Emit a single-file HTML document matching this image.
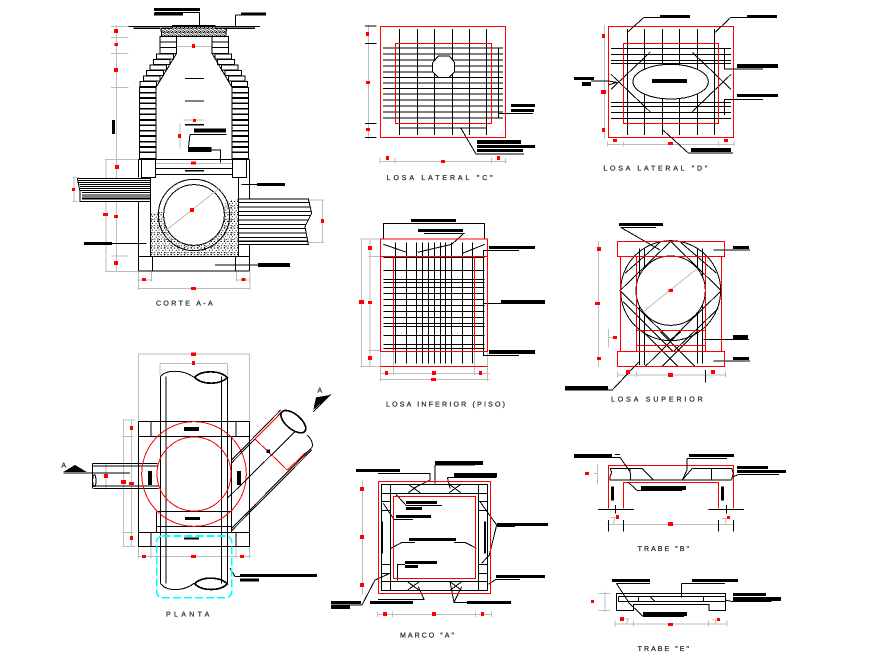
<!DOCTYPE html>
<html><head><meta charset="utf-8">
<style>
html,body{margin:0;padding:0;background:#fff}
svg{display:block;shape-rendering:crispEdges}
.k{fill:none;stroke:#000;stroke-width:3}
.k2{fill:none;stroke:#000;stroke-width:5}
.g{fill:none;stroke:#bdbdbd;stroke-width:3}
.r{fill:none;stroke:#f00;stroke-width:3}
.R{fill:#f00;stroke:none}
.b{fill:#000;stroke:none}
.w{fill:#fff;stroke:#000;stroke-width:3}
text{font-family:"Liberation Sans",sans-serif;font-size:21px;fill:#333;stroke:#333;stroke-width:.9;text-rendering:geometricPrecision}
</style></head><body>
<svg xmlns="http://www.w3.org/2000/svg" width="895" height="659" viewBox="0 0 895 659">
<defs>
<pattern id="gr" width="12" height="12" patternUnits="userSpaceOnUse"><path d="M0 1h6v4h-6zM8 0h4v3h-4zM4 7h5v4h-5zM10 6h2v5h-2zM0 9h3v3h-3z" fill="#000"/></pattern>
<pattern id="co" width="20" height="20" patternUnits="userSpaceOnUse"><path d="M2 3h3v3h-3zM12 2h3v3h-3zM7 10h3v3h-3zM16 9h3v3h-3zM3 16h3v3h-3zM12 15h3v3h-3zM17 17h3v3h-3z" fill="#000"/></pattern>
</defs>
<rect width="895" height="659" fill="#fff"/>

<!-- CORTE A-A -->
<g transform="translate(60,0) scale(.33333)">
<path class="g" d="M170 75V815M153 80H205M153 112H205M153 160H205M153 262H205M153 768H205M135 478H235M138 478V815M135 815H235M42 530V605M38 532H52M38 605H52M788 600V728M745 600H792M745 728H792M232 840H275M530 840H572M232 865H572M235 815V870M275 815V845M530 815V845M570 815V870M370 360H432M360 370V445M285 490H520M350 140H455"/>
<path fill="url(#gr)" stroke="#000" stroke-width="3" d="M338 76H465L468 84H500L497 110H305L303 84H335Z"/>
<path class="k" d="M205 80H600M285 37H418V75M527 45H543M527 45V78M390 404H500M390 404L385 445M455 450H481V487M375 235H432M375 303H432"/>
<path class="k2" d="M220 85H300M500 85H585M375 374H432M375 512H432"/>
<path class="w" d="M300 110H350V160H300ZM456 110H505V160H456ZM290 162H340V177H290ZM280 178H330V194H280ZM270 195H320V210H270ZM259 211H310V227H259ZM250 228H300V243H250ZM240 244H290V260H240ZM465 162H515V177H465ZM473 178H524V194H473ZM484 195H534V210H484ZM495 211H545V227H495ZM505 228H555V243H505ZM515 244H563V260H515Z"/>
<path class="k" d="M300 126H350M300 143H350M456 126H505M456 143H505M350 160L288 262M456 160L516 262"/>
<path class="w" d="M238 262H288V476H238ZM516 262H566V476H516Z"/>
<path class="k2" d="M238 278H288M238 294H288M238 310H288M238 326H288M238 343H288M238 360H288M238 376H288M238 392H288M238 408H288M238 425H288M238 441H288M238 457H288M516 278H566M516 294H566M516 310H566M516 326H566M516 343H566M516 360H566M516 376H566M516 392H566M516 408H566M516 425H566M516 441H566M516 457H566"/>
<path class="k" d="M235 478H568M245 478V532H287V478M517 478V532H560V478M287 505H517M287 524H517M235 478V532M568 478V595M272 532V770M535 532V595M235 605V770M535 730V770M568 730V770M235 770H568M235 813H568M235 770V813M568 770V813M278 770V813M527 770V813"/>
<circle cx="402" cy="645" r="107" class="k"/>
<path fill="url(#co)" stroke="none" d="M272 640L312 635L402 740L490 640L497 606L535 597V768H272Z"/>
<circle cx="402" cy="645" r="91" fill="#fff" stroke="#000" stroke-width="3"/>
<path class="g" d="M320 690L478 565"/>
<path fill="#fff" stroke="#000" stroke-width="3" d="M52 535H272V605H60V575Z"/>
<path class="k" d="M54 541H272M56 547H272M58 553H272M60 559H272M60 565H272M60 572H272M66 578H272M66 585H272M66 591H272"/>
<path class="k2" d="M66 596H272"/>
<path fill="#fff" stroke="#000" stroke-width="3" d="M535 597H745L755 640L735 680L745 733H535Z"/>
<path class="k" d="M535 608H750M535 621H752M535 634H754M535 647H750M535 660H745M535 673H738M535 686H738M535 699H740M535 712H742"/>
<path class="k2" d="M535 724H742"/>
<path class="k" d="M156 730H260M545 553H591M465 795H594"/>
<path class="b" d="M282 24h138v9h-138zM282 38h87v9h-87zM543 37h75v10h-75zM402 386h96v12h-96zM384 441h70v15h-70zM156 360h9v42h-9zM72 726h84v9h-84zM591 549h84v9h-84zM594 789h96v12h-96z"/>
<path class="R" d="M162 87h12v12h-12zM163 129h11v9h-11zM162 204h12v12h-12zM165 495h12v12h-12zM129 639h15v9h-15zM162 645h12v9h-12zM162 783h12v12h-12zM36 564h9v9h-9zM783 657h9v12h-9zM246 834h12v9h-12zM544 834h12v9h-12zM393 861h15v9h-15zM396 132h9v12h-9zM399 357h9v9h-9zM354 402h9v12h-9zM393 484h15v9h-15zM390 624h12v12h-12z"/>
<text x="288" y="917" textLength="170" lengthAdjust="spacing">CORTE A-A</text>
</g>

<!-- PLANTA -->
<g transform="translate(50,340) scale(.33333)">
<path class="g" d="M265 42H598M265 42V240M598 42V240M330 70H532M330 70V105M532 70V105M220 240V620M245 240V620M218 240H255M218 289H250M218 577H250M218 620H255M262 650H603M265 620V655M303 620V655M558 620V655M598 620V655M168 367V450"/>
<path class="k" d="M265 244H598V620H265ZM265 289H598M265 577H598M320 515H545M320 560H545M303 244V289M558 244V289M303 577V620M558 577V620M320 515V577M545 290V577"/>
<path class="k" d="M332 110V730M348 110V730M514 110V730M532 110V730M332 110C345 88 400 88 432 112M332 730C345 755 400 755 432 730"/>
<path class="k2" d="M434 112C455 90 510 90 532 113C510 135 455 135 434 112ZM434 731C455 709 510 709 532 732C510 754 455 754 434 731Z"/>
<path class="k" d="M128 370H322M128 378H322M130 438H325M130 445H325M128 370V445M240 399H40"/>
<ellipse cx="133" cy="422" rx="5" ry="18" class="k"/>
<circle cx="432" cy="402" r="157" class="r"/>
<circle cx="432" cy="402" r="111" class="r"/>
<path class="k" d="M545 360L692 210M545 368L697 214M533 474L735 275M545 565L783 325M545 572L785 330"/>
<path class="k" d="M770 285C790 300 790 320 783 325"/>
<ellipse cx="730" cy="245" rx="45" ry="22" transform="rotate(40 730 245)" class="k2"/>
<path class="r" d="M615 297L712 390M615 297L690 222M712 390L770 335"/>
<path class="k" d="M790 215L842 163M570 709H555L540 685"/>
<path class="b" d="M40 396L75 375L110 396ZM790 210L798 172L840 165ZM402 261h45v12h-45zM405 531h45v9h-45zM402 592h45v6h-45zM294 393h12v42h-12zM561 393h12v42h-12zM650 329h10v10h-10zM570 702h231v9h-231zM570 715h57v9h-57z"/>
<rect x="320" y="588" width="225" height="185" rx="18" fill="none" stroke="#00ffff" stroke-width="5" stroke-dasharray="24 9"/>
<path class="R" d="M423 37h15v11h-15zM426 63h9v12h-9zM162 402h12v12h-12zM213 420h15v12h-15zM237 426h15v9h-15zM240 258h9v12h-9zM240 588h9v12h-9zM276 645h12v9h-12zM423 645h15v9h-15zM570 645h12v9h-12z"/>
<text x="34" y="382">A</text>
<text x="802" y="158">A</text>
<text x="348" y="830" textLength="130" lengthAdjust="spacing">PLANTA</text>
</g>

<!-- LOSA LATERAL C -->
<g transform="translate(350,10) scale(.33333)">
<path class="g" d="M55 45V388M90 454H470M90 444V460M135 444V460M424 444V460M466 444V460"/>
<path class="k" d="M45 48H80M45 100H80M45 340H80M45 382H80"/>
<path class="k" d="M148 57V375M202 57V375M253 57V375M307 57V375M358 57V375M409 57V375M99 114H459M99 132H459M99 150H459M99 168H459M99 186H459M99 203H459M99 219H459M99 236H459M99 252H459M99 270H459M99 288H459M99 306H459M99 324H459M446 115V322M148 354H409M446 310H549M333 355L378 432H522"/>
<path class="r" d="M92 49H466V382H92ZM136 100H424V340H136Z"/>
<path fill="#fff" stroke="#000" stroke-width="3" d="M265 138H298L314 158V185L298 202H265L248 185V158Z"/>
<path class="b" d="M483 282h72v9h-72zM483 297h69v9h-69zM381 390h132v12h-132zM381 405h174v9h-174zM381 417h138v9h-138z"/>
<path class="R" d="M48 66h9v12h-9zM48 213h12v9h-12zM48 354h12v9h-12zM108 438h9v12h-9zM273 450h12v9h-12zM441 438h9v12h-9z"/>
<text x="110" y="510" textLength="318" lengthAdjust="spacing">LOSA LATERAL "C"</text>
</g>

<!-- LOSA LATERAL D -->
<g transform="translate(570,5) scale(.33333)">
<path class="g" d="M103 60V400M112 418H492M112 410V425M160 410V425M445 410V425M492 410V425"/>
<path class="k" d="M172 72V390M223 72V390M277 72V390M328 72V390M382 72V390M433 72V390M123 130H483M123 148H483M123 166H483M123 176H483M123 292H483M123 304H483M123 322H483M123 340H483M123 208L240 320M123 253L240 142M367 142L483 253M367 320L483 208"/>
<ellipse cx="302" cy="230" rx="113" ry="52" class="w"/>
<path class="r" d="M115 65H490V397H115ZM160 115H445V355H160Z"/>
<path class="k" d="M360 37H222L172 82M621 37H483L435 82M463 132V192H579M463 330V283H579M280 376L355 444H489M63 228H115L140 232L115 240"/>
<path class="b" d="M270 30h90v9h-90zM531 30h90v9h-90zM501 177h123v12h-123zM501 267h123v9h-123zM363 429h120v12h-120zM12 216h60v9h-60zM36 231h27v12h-27zM246 222h105v12h-105z"/>
<path class="R" d="M96 87h9v12h-9zM93 255h15v12h-15zM96 369h9v12h-9zM129 402h12v9h-12zM294 411h15v9h-15zM462 402h12v9h-12z"/>
<text x="100" y="497" textLength="312" lengthAdjust="spacing">LOSA LATERAL "D"</text>
</g>

<!-- LOSA INFERIOR -->
<g transform="translate(350,215) scale(.33333)">
<path class="g" d="M34 72V455M60 72V455M30 72H92M55 124H92M55 406H92M30 455H92M92 410V500M130 410V480M373 410V480M412 410V500M92 475H418M88 493H418"/>
<path class="k" d="M100 72V25H404V72M222 55H342L305 88M100 88L170 112M202 112L305 88M404 88L337 115"/>
<path class="k" d="M136 82V445M169 82V445M199 82V445M217 82V445M235 82V445M253 82V445M271 82V445M286 82V445M304 82V445M337 82V445M367 82V445M100 127H404M100 166H404M100 193H404M100 202H404M100 217H404M100 236H404M100 254H404M100 271H404M100 289H404M100 307H404M100 325H404M100 334H404M100 361H404M100 388H404M100 400H404"/>
<path class="k" d="M507 106H400V421H507M400 265H453"/>
<path class="r" d="M92 72H412V410H92ZM92 124H412M130 124V405M373 124V405M92 455H412"/>
<path class="b" d="M183 12h135v9h-135zM204 42h135v9h-135zM417 93h138v9h-138zM453 255h132v12h-132zM417 405h138v12h-138z"/>
<path class="R" d="M54 93h12v12h-12zM27 255h15v12h-15zM54 258h12v9h-12zM54 423h12v12h-12zM105 468h9v12h-9zM246 468h12v12h-12zM387 468h9v12h-9zM243 489h15v9h-15z"/>
<text x="108" y="575" textLength="357" lengthAdjust="spacing">LOSA INFERIOR (PISO)</text>
</g>

<!-- LOSA SUPERIOR -->
<g transform="translate(560,215) scale(.33333)">
<path class="g" d="M115 78V455M145 342V397M145 367H165M172 480H496M172 470V486M229 470V486M496 470V486"/>
<circle cx="332" cy="227" r="150" class="k"/>
<path class="k" d="M180 227L332 79L484 227L332 375ZM190 260L340 410M195 175L300 82M470 175L362 82M475 280L340 410M250 350L355 455M300 350L405 455M410 350L305 455M362 350L255 455M238 100V450M253 100V450M412 100V445M427 100V445M182 37H288M182 37L300 105M460 105H570M430 373H567M460 438H570M15 525H157L240 437M436 465V503"/>
<path class="w" d="M228 227A104 104 0 1 0 436 227A104 104 0 1 0 228 227Z"/>
<path class="g" d="M250 290L412 160"/>
<path class="r" d="M172 79H494V124H172ZM172 409H494V455H172ZM181 124V409M484 124V409M229 124V409M436 124V409M229 346H436M229 391H436"/>
<path class="b" d="M177 24h132v9h-132zM519 93h48v9h-48zM519 360h45v12h-45zM519 426h48v9h-48zM15 513h129v12h-129z"/>
<path class="R" d="M111 96h12v12h-12zM105 261h15v9h-15zM111 426h12v9h-12zM159 363h12v9h-12zM198 465h12v12h-12zM324 474h15v12h-15zM453 465h12v12h-12zM325 222h14v9h-14z"/>
<text x="153" y="560" textLength="275" lengthAdjust="spacing">LOSA SUPERIOR</text>
</g>

<!-- MARCO A -->
<g transform="translate(330,455) scale(.33333)">
<path class="g" d="M97 76V418M142 478H485M142 470V486M187 470V486M437 470V486M485 470V486"/>
<path class="k" d="M154 88H472V406H154ZM181 88V406M445 88V406M154 115H472M154 379H472M154 139H181M154 166H181M154 328H181M154 355H181M445 139H472M445 166H472M445 328H472M445 355H472"/>
<path class="k" d="M235 88L270 113M270 88L235 113M358 88L392 113M392 88L358 113M232 406L268 380M232 380L268 406M360 380L395 406M395 380L360 406"/>
<path class="k2" d="M157 200V295M465 200V295"/>
<path class="k" d="M315 30H435M315 30V85M144 55H300V75L250 100M352 67H500M352 67L360 100M228 151H336M198 118L228 151M192 193H249M192 193L160 145M183 280L216 262H255M372 262H405L440 280M225 328H202V376M450 140L500 210L478 300L455 325M570 373H498L475 388M411 442H372L360 380M372 442L395 395M144 433H282L265 395M3 450H96L135 375L180 355"/>
<path class="r" d="M145 80H481V415H145ZM190 124H437V370H190Z"/>
<path class="b" d="M315 18h144v12h-144zM78 42h132v9h-132zM372 54h129v12h-129zM228 138h93v9h-93zM228 156h48v9h-48zM198 180h105v9h-105zM237 249h141v9h-141zM225 318h96v9h-96zM225 330h39v9h-39zM501 204h153v9h-153zM501 213h54v3h-54zM498 360h147v9h-147zM411 438h132v9h-132zM120 438h129v9h-129zM3 438h90v9h-90zM3 450h57v12h-57z"/>
<path class="R" d="M90 96h12v12h-12zM90 240h12v12h-12zM90 384h12v12h-12zM159 471h12v12h-12zM306 471h12v12h-12zM453 471h9v12h-9z"/>
<text x="210" y="548" textLength="162" lengthAdjust="spacing">MARCO "A"</text>
</g>

<!-- TRABE B / E -->
<g transform="translate(565,445) scale(.33333)">
<path class="g" d="M97 58V118M85 85H97M127 238H508M138 218H150L145 235M472 220H484L480 235M120 445H135M100 445H135M100 496H135M120 440V500M150 537H486M150 527V545M205 527V545M430 527V545M486 527V545M178 522H190L185 535M442 525H454L450 535"/>
<path class="r" d="M130 190V61H505V190M175 190V112H460V190"/>
<path class="k" d="M135 70H195L197 105M195 70H230L265 105M135 70L140 82L135 95L135 105H500M382 70L352 105M382 70H500L505 85L500 105M439 70V105M99 193H207M430 193H537M152 180V205M484 180V205M130 225V260M175 225V260M460 225V260M505 225V260M27 37H165L195 80M366 40H486M366 40V75L352 105M216 136H351M216 136L190 112M522 88H642M522 88L500 97"/>
<path class="k" d="M154 445H481V496H432V478H205V496H154ZM160 455H480M160 469H480M160 455V469M220 455V469M415 455V469M255 455L270 469M154 415H255M154 415L190 470M349 415H480M349 415V458M234 514H357M234 514L190 472M480 465L504 470H620"/>
<path class="b" d="M138 124h9v42h-9zM468 124h9v42h-9zM27 27h114v9h-114zM150 27h15v3h-15zM372 27h135v9h-135zM228 123h135v12h-135zM516 63h93v9h-93zM516 75h147v9h-147zM141 402h114v9h-114zM381 402h138v9h-138zM234 501h132v12h-132zM504 444h99v9h-99zM504 456h144v12h-144z"/>
<path class="R" d="M60 81h12v9h-12zM309 231h15v12h-15zM153 210h9v12h-9zM486 213h9v9h-9zM78 465h9v9h-9zM165 516h12v12h-12zM309 534h15v9h-15zM456 519h9v9h-9z"/>
<text x="218" y="318" textLength="154" lengthAdjust="spacing">TRABE "B"</text>
<text x="218" y="618" textLength="154" lengthAdjust="spacing">TRABE "E"</text>
</g>
</svg>
</body></html>
